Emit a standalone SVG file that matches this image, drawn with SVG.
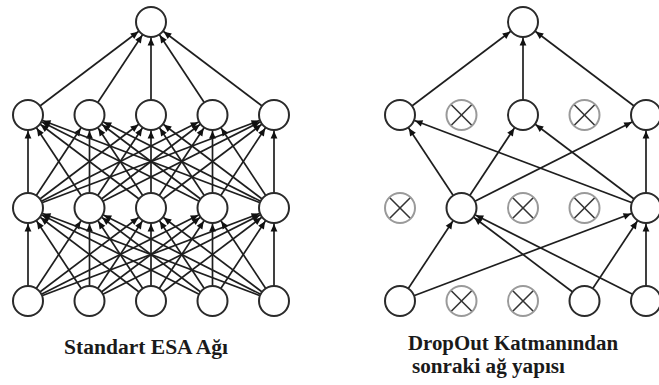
<svg xmlns="http://www.w3.org/2000/svg" width="659" height="385" viewBox="0 0 659 385">
<style>
.c{stroke:#1e1e1e;stroke-width:1.7;fill:none;marker-end:url(#ah)}
.n{fill:#fff;stroke:#2a2a2a;stroke-width:2}
.x{fill:#fff;stroke:#9a9a9a;stroke-width:2}
.xl{stroke:#333;stroke-width:1.6}
.t{font-family:"Liberation Serif","Times New Roman",serif;font-weight:bold;font-size:20px;fill:#1a1a1a}
</style>
<defs>
<marker id="ah" viewBox="-30 -6 32 12" refX="0" refY="0" markerWidth="32" markerHeight="12" markerUnits="userSpaceOnUse" orient="auto" overflow="visible">
<path d="M-16,0 L-23.5,-3.4 L-23.5,3.4 z" fill="#111"/>
</marker>
<g id="xmark"><line class="xl" x1="-10" y1="-10" x2="10" y2="10"/><line class="xl" x1="-10" y1="10" x2="10" y2="-10"/></g>
</defs>
<rect width="659" height="385" fill="#fff"/>
<g id="connectors">
<!-- left: input -> hidden1 -->
<line class="c" x1="28" y1="301" x2="28" y2="208"/><line class="c" x1="28" y1="301" x2="89.5" y2="208"/><line class="c" x1="28" y1="301" x2="151" y2="208"/><line class="c" x1="28" y1="301" x2="212.5" y2="208"/><line class="c" x1="28" y1="301" x2="274" y2="208"/>
<line class="c" x1="89.5" y1="301" x2="28" y2="208"/><line class="c" x1="89.5" y1="301" x2="89.5" y2="208"/><line class="c" x1="89.5" y1="301" x2="151" y2="208"/><line class="c" x1="89.5" y1="301" x2="212.5" y2="208"/><line class="c" x1="89.5" y1="301" x2="274" y2="208"/>
<line class="c" x1="151" y1="301" x2="28" y2="208"/><line class="c" x1="151" y1="301" x2="89.5" y2="208"/><line class="c" x1="151" y1="301" x2="151" y2="208"/><line class="c" x1="151" y1="301" x2="212.5" y2="208"/><line class="c" x1="151" y1="301" x2="274" y2="208"/>
<line class="c" x1="212.5" y1="301" x2="28" y2="208"/><line class="c" x1="212.5" y1="301" x2="89.5" y2="208"/><line class="c" x1="212.5" y1="301" x2="151" y2="208"/><line class="c" x1="212.5" y1="301" x2="212.5" y2="208"/><line class="c" x1="212.5" y1="301" x2="274" y2="208"/>
<line class="c" x1="274" y1="301" x2="28" y2="208"/><line class="c" x1="274" y1="301" x2="89.5" y2="208"/><line class="c" x1="274" y1="301" x2="151" y2="208"/><line class="c" x1="274" y1="301" x2="212.5" y2="208"/><line class="c" x1="274" y1="301" x2="274" y2="208"/>
<!-- left: hidden1 -> hidden2 -->
<line class="c" x1="28" y1="208" x2="28" y2="115"/><line class="c" x1="28" y1="208" x2="89.5" y2="115"/><line class="c" x1="28" y1="208" x2="151" y2="115"/><line class="c" x1="28" y1="208" x2="212.5" y2="115"/><line class="c" x1="28" y1="208" x2="274" y2="115"/>
<line class="c" x1="89.5" y1="208" x2="28" y2="115"/><line class="c" x1="89.5" y1="208" x2="89.5" y2="115"/><line class="c" x1="89.5" y1="208" x2="151" y2="115"/><line class="c" x1="89.5" y1="208" x2="212.5" y2="115"/><line class="c" x1="89.5" y1="208" x2="274" y2="115"/>
<line class="c" x1="151" y1="208" x2="28" y2="115"/><line class="c" x1="151" y1="208" x2="89.5" y2="115"/><line class="c" x1="151" y1="208" x2="151" y2="115"/><line class="c" x1="151" y1="208" x2="212.5" y2="115"/><line class="c" x1="151" y1="208" x2="274" y2="115"/>
<line class="c" x1="212.5" y1="208" x2="28" y2="115"/><line class="c" x1="212.5" y1="208" x2="89.5" y2="115"/><line class="c" x1="212.5" y1="208" x2="151" y2="115"/><line class="c" x1="212.5" y1="208" x2="212.5" y2="115"/><line class="c" x1="212.5" y1="208" x2="274" y2="115"/>
<line class="c" x1="274" y1="208" x2="28" y2="115"/><line class="c" x1="274" y1="208" x2="89.5" y2="115"/><line class="c" x1="274" y1="208" x2="151" y2="115"/><line class="c" x1="274" y1="208" x2="212.5" y2="115"/><line class="c" x1="274" y1="208" x2="274" y2="115"/>
<!-- left: hidden2 -> output -->
<line class="c" x1="28" y1="115" x2="151" y2="22"/><line class="c" x1="89.5" y1="115" x2="151" y2="22"/><line class="c" x1="151" y1="115" x2="151" y2="22"/><line class="c" x1="212.5" y1="115" x2="151" y2="22"/><line class="c" x1="274" y1="115" x2="151" y2="22"/>
<!-- right -->
<line class="c" x1="400" y1="115" x2="523" y2="22"/><line class="c" x1="523" y1="115" x2="523" y2="22"/><line class="c" x1="646" y1="115" x2="523" y2="22"/>
<line class="c" x1="461.5" y1="208" x2="400" y2="115"/><line class="c" x1="461.5" y1="208" x2="523" y2="115"/><line class="c" x1="461.5" y1="208" x2="646" y2="115"/>
<line class="c" x1="646" y1="208" x2="400" y2="115"/><line class="c" x1="646" y1="208" x2="523" y2="115"/><line class="c" x1="646" y1="208" x2="646" y2="115"/>
<line class="c" x1="400" y1="301" x2="461.5" y2="208"/><line class="c" x1="584.5" y1="301" x2="461.5" y2="208"/><line class="c" x1="646" y1="301" x2="461.5" y2="208"/>
<line class="c" x1="400" y1="301" x2="646" y2="208"/><line class="c" x1="584.5" y1="301" x2="646" y2="208"/><line class="c" x1="646" y1="301" x2="646" y2="208"/>
</g>
<!-- left nodes -->
<g id="L-out"><circle class="n" cx="151" cy="22" r="15"/></g>
<g id="L-h2-1"><circle class="n" cx="28" cy="115" r="15"/></g>
<g id="L-h2-2"><circle class="n" cx="89.5" cy="115" r="15"/></g>
<g id="L-h2-3"><circle class="n" cx="151" cy="115" r="15"/></g>
<g id="L-h2-4"><circle class="n" cx="212.5" cy="115" r="15"/></g>
<g id="L-h2-5"><circle class="n" cx="274" cy="115" r="15"/></g>
<g id="L-h1-1"><circle class="n" cx="28" cy="208" r="15"/></g>
<g id="L-h1-2"><circle class="n" cx="89.5" cy="208" r="15"/></g>
<g id="L-h1-3"><circle class="n" cx="151" cy="208" r="15"/></g>
<g id="L-h1-4"><circle class="n" cx="212.5" cy="208" r="15"/></g>
<g id="L-h1-5"><circle class="n" cx="274" cy="208" r="15"/></g>
<g id="L-in-1"><circle class="n" cx="28" cy="301" r="15"/></g>
<g id="L-in-2"><circle class="n" cx="89.5" cy="301" r="15"/></g>
<g id="L-in-3"><circle class="n" cx="151" cy="301" r="15"/></g>
<g id="L-in-4"><circle class="n" cx="212.5" cy="301" r="15"/></g>
<g id="L-in-5"><circle class="n" cx="274" cy="301" r="15"/></g>
<!-- right nodes -->
<g id="R-out"><circle class="n" cx="523" cy="22" r="15"/></g>
<g id="R-h2-1"><circle class="n" cx="400" cy="115" r="15"/></g>
<g id="R-h2-2" transform="translate(461.5,115)"><circle class="x" r="15"/><use href="#xmark"/></g>
<g id="R-h2-3"><circle class="n" cx="523" cy="115" r="15"/></g>
<g id="R-h2-4" transform="translate(584.5,115)"><circle class="x" r="15"/><use href="#xmark"/></g>
<g id="R-h2-5"><circle class="n" cx="646" cy="115" r="15"/></g>
<g id="R-h1-1" transform="translate(400,208)"><circle class="x" r="15"/><use href="#xmark"/></g>
<g id="R-h1-2"><circle class="n" cx="461.5" cy="208" r="15"/></g>
<g id="R-h1-3" transform="translate(523,208)"><circle class="x" r="15"/><use href="#xmark"/></g>
<g id="R-h1-4" transform="translate(584.5,208)"><circle class="x" r="15"/><use href="#xmark"/></g>
<g id="R-h1-5"><circle class="n" cx="646" cy="208" r="15"/></g>
<g id="R-in-1"><circle class="n" cx="400" cy="301" r="15"/></g>
<g id="R-in-2" transform="translate(461.5,301)"><circle class="x" r="15"/><use href="#xmark"/></g>
<g id="R-in-3" transform="translate(523,301)"><circle class="x" r="15"/><use href="#xmark"/></g>
<g id="R-in-4"><circle class="n" cx="584.5" cy="301" r="15"/></g>
<g id="R-in-5"><circle class="n" cx="646" cy="301" r="15"/></g>
<!-- captions -->
<text class="t" x="64" y="354" textLength="164" lengthAdjust="spacingAndGlyphs">Standart ESA Ağı</text>
<text class="t" x="408" y="350" textLength="210" lengthAdjust="spacingAndGlyphs">DropOut Katmanından</text>
<text class="t" x="412" y="373" textLength="153" lengthAdjust="spacingAndGlyphs">sonraki ağ yapısı</text>
</svg>
